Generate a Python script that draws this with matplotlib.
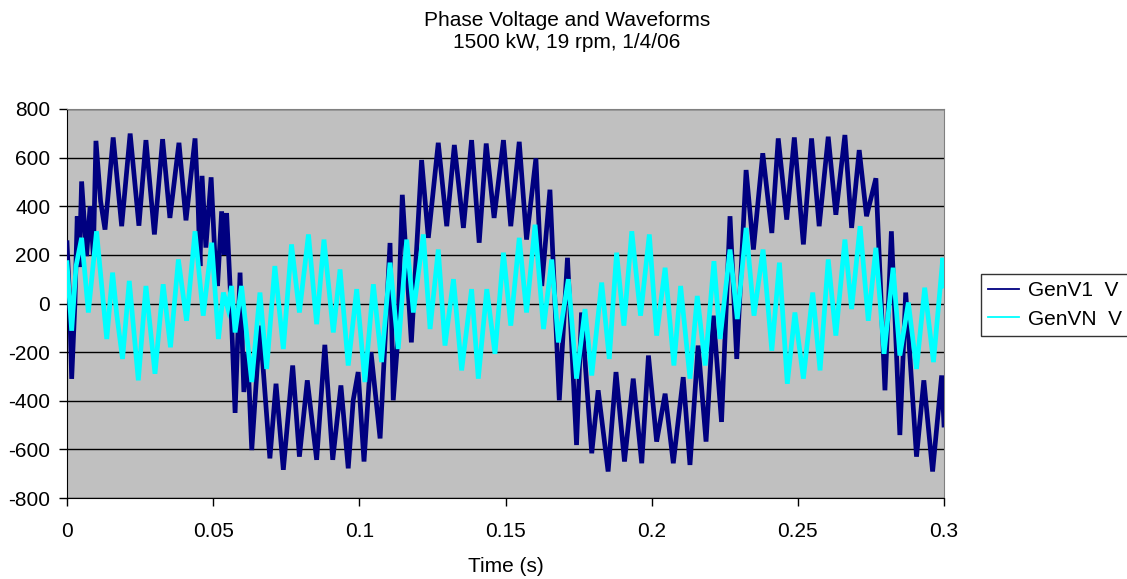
import matplotlib
matplotlib.use("Agg")
import matplotlib.pyplot as plt
import numpy as np

plt.rcParams['font.family'] = ['Liberation Sans', 'DejaVu Sans']
plt.rcParams['axes.unicode_minus'] = False

# GenV1 phase voltage: time (ms) and value (V) at ripple peaks/troughs
t_v1_ms = [0.0, 0.8, 1.6, 2.7, 3.5, 4.2, 5.0, 6.7, 7.9, 9.0, 9.9, 11.5, 13.0, 15.8, 18.7,
           21.6, 24.6, 27.0, 29.9, 32.7, 35.2, 38.3, 40.7, 43.8, 44.8, 45.5, 46.2, 47.5,
           49.3, 50.6, 51.5, 52.9, 53.8, 54.6, 56.0, 57.5, 59.2, 60.5, 61.8, 63.2, 66.0,
           69.4, 71.5, 74.0, 77.2, 79.5, 82.2, 85.4, 88.2, 90.9, 93.7, 96.2, 97.9, 99.6,
           101.6, 104.0, 107.1, 110.5, 111.6, 113.0, 114.7, 117.8, 121.3, 123.6, 127.0,
           129.9, 132.5, 135.6, 138.4, 141.0, 143.4, 146.1, 149.3, 151.8, 154.7, 157.2,
           160.4, 162.4, 165.2, 168.4, 171.2, 174.3, 176.0, 179.5, 181.7, 185.1, 187.8,
           190.7, 193.7, 196.6, 198.9, 201.7, 204.6, 207.4, 210.8, 213.1, 215.9, 218.6,
           221.1, 223.9, 226.8, 229.1, 232.3, 234.8, 238.0, 241.1, 243.3, 246.2, 248.8,
           251.9, 254.7, 257.3, 260.4, 263.0, 266.1, 268.4, 271.0, 273.5, 276.7, 279.8,
           282.0, 284.9, 286.9, 290.6, 293.1, 296.1, 299.2, 300.0]
gen_v1 = [250, 40, -310, 0, 358, 150, 502, 195, 400, 200, 669, 420, 304, 683, 318,
          699, 320, 672, 284, 676, 352, 661, 342, 679, 427, 154, 525, 230,
          519, 195, 72, 379, 200, 372, 18, -450, 127, -364, -200, -603, -91,
          -637, -330, -684, -255, -630, -316, -643, -170, -643, -337, -678, -398, -282,
          -650, -200, -555, 249, -398, -173, 447, -160, 590, 270, 661,
          318, 652, 311, 672, 250, 658, 352, 672, 318, 665, 263,
          597, 72, 468, -398, 188, -582, -37, -616, -357, -691, -282,
          -650, -309, -657, -214, -568, -371, -657, -303, -664, -173, -568,
          -50, -487, 359, -228, 549, 222, 618, 290, 679, 345, 683,
          243, 679, 318, 686, 365, 693, 311, 631, 359, 515, -357,
          297, -541, 45, -630, -316, -691, -296, -500]

# GenVN neutral voltage: time (ms) and value (V) at ripple peaks/troughs
t_vn_ms = [0.0, 1.6, 3.1, 5.0, 6.2, 7.3, 10.1, 13.6, 15.6, 17.0, 19.0, 21.3, 24.4, 27.0,
           30.1, 32.9, 35.4, 38.1, 40.9, 43.8, 46.6, 49.5, 51.8, 53.5, 55.0, 56.3, 57.5,
           59.7, 63.2, 66.0, 68.3, 71.1, 74.0, 76.8, 79.5, 82.6, 85.4, 87.9, 91.1, 93.4,
           96.2, 99.1, 101.9, 104.8, 107.6, 110.5, 113.3, 116.2, 118.5, 121.9, 124.2,
           127.0, 129.3, 132.2, 135.0, 138.4, 140.7, 143.6, 146.4, 149.3, 151.8, 154.7,
           157.2, 160.1, 163.0, 165.8, 168.1, 171.5, 174.3, 177.2, 179.5, 182.9, 185.5,
           188.0, 190.5, 193.2, 196.2, 199.2, 201.7, 204.6, 207.6, 209.9, 213.1, 215.6,
           218.3, 221.3, 223.4, 226.8, 229.3, 232.3, 235.0, 238.1, 241.1, 243.7, 246.4,
           249.0, 251.9, 255.1, 257.6, 260.4, 263.0, 266.1, 268.4, 271.3, 274.1, 276.7,
           279.5, 282.6, 284.9, 287.8, 290.6, 293.4, 296.4, 299.6, 300.0]
gen_vn = [168, -112, 154, 270, 113, -37, 297, -146, 127, -44, -228, 93, -316, 72,
          -289, 79, -180, 181, -71, 297, -50, 250, -146, 45, -20, 72, -119,
          72, -323, 45, -269, 154, -187, 243, -37, 284, -85, 263, -119, 140,
          -255, 59, -323, 79, -241, 168, -187, 263, -37, 284, -105,
          222, -173, 100, -275, 59, -309, 59, -207, 209, -91, 270,
          -37, 324, -105, 181, -160, 100, -309, -23, -296, 86, -228,
          209, -91, 297, -50, 284, -132, 147, -255, 72, -309, 31,
          -255, 174, -146, 222, -64, 311, -50, 222, -194, 168, -330,
          -37, -309, 45, -275, 181, -132, 263, -23, 318, -71, 229,
          -207, 147, -214, 4, -269, 65, -241, 188, 72]

x_ticks = [0, 0.05, 0.1, 0.15, 0.2, 0.25, 0.3]
x_tick_labels = ["0", "0.05", "0.1", "0.15", "0.2", "0.25", "0.3"]
y_ticks = [-800, -600, -400, -200, 0, 200, 400, 600, 800]

t_v1 = np.array(t_v1_ms) / 1000.0
t_vn = np.array(t_vn_ms) / 1000.0

fig = plt.figure(figsize=(11.27, 5.79), dpi=100)
ax = fig.add_axes([67 / 1127, 1 - 498 / 579, 877 / 1127, 389 / 579])
ax.set_facecolor('#C0C0C0')

ax.plot(t_v1, gen_v1, color='#000080', lw=3.4, label='GenV1  V', zorder=3,
        solid_joinstyle='miter')
ax.plot(t_vn, gen_vn, color='#00FFFF', lw=3.4, label='GenVN  V', zorder=4,
        solid_joinstyle='miter')

ax.set_xlim(0, 0.3)
ax.set_ylim(-800, 800)
ax.set_xticks(x_ticks)
ax.set_xticklabels(x_tick_labels)
ax.set_yticks(y_ticks)
ax.yaxis.grid(True, color='black', lw=1.0)
ax.set_axisbelow(True)
ax.tick_params(axis='both', labelsize=15, length=6, width=1, direction='out', colors='black')
ax.tick_params(axis='x', pad=11)
ax.tick_params(axis='y', pad=6)
for side in ('top', 'right'):
    ax.spines[side].set_color('#808080')
for side in ('left', 'bottom'):
    ax.spines[side].set_color('black')

ax.set_xlabel('Time (s)', fontsize=15, labelpad=12)

fig.text(0.503, 0.965, 'Phase Voltage and Waveforms', ha='center', va='center', fontsize=15)
fig.text(0.503, 0.926, '1500 kW, 19 rpm, 1/4/06', ha='center', va='center', fontsize=15)

leg = fig.legend(loc='center left', bbox_to_anchor=(981 / 1127, 1 - 305 / 579), frameon=True,
                 fontsize=15, handlelength=1.45, handletextpad=0.45, borderpad=0.35,
                 labelspacing=0.45, borderaxespad=0, fancybox=False, edgecolor='black')
leg.get_frame().set_linewidth(1.0)
for line in leg.get_lines():
    line.set_linewidth(1.3)

fig.savefig('out.png', dpi=100)
